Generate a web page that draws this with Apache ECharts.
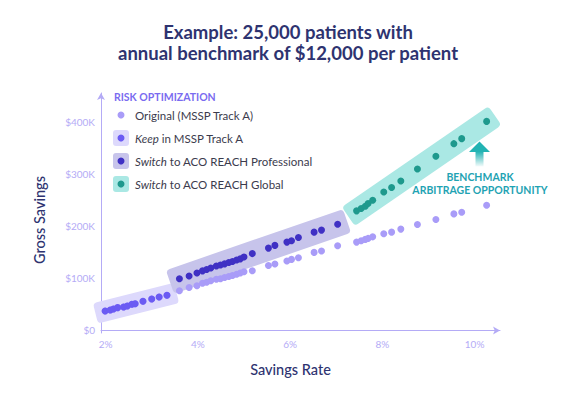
<!DOCTYPE html>
<html>
<head>
<meta charset="utf-8">
<title>Risk optimization</title>
<script src="https://cdn.jsdelivr.net/npm/echarts@6/dist/echarts.min.js"></script>
<style>
  html, body { margin: 0; padding: 0; background: #fff; }
  #chart { width: 576px; height: 400px; }
</style>
</head>
<body>
<div id="chart"></div>
<script>
// savings rate in %, gross savings in $K
var origRate = [1.99, 2.10, 2.17, 2.26, 2.39, 2.47, 2.57, 2.64, 2.81, 3.00, 3.16, 3.33,
  3.60, 3.81, 3.98, 4.10, 4.19, 4.28, 4.40, 4.49, 4.58, 4.67, 4.75, 4.84, 4.92, 5.00, 5.18,
  5.53, 5.67, 5.93, 6.03, 6.18, 6.52, 6.68, 7.03,
  7.44, 7.54, 7.63, 7.69, 7.79, 8.03, 8.20, 8.40, 8.76, 9.16, 9.55, 9.72, 10.26];
var origSavings = [37.3, 39.2, 41.1, 43.6, 44.9, 46.8, 50.1, 51.2, 55.8, 60.2, 64.1, 67.3,
  76.1, 82.2, 85.7, 90.2, 92.4, 95.2, 97.9, 99.0, 101.3, 103.3, 105.2, 107.5, 109.9, 112.4, 114.3,
  124.3, 127.2, 132.9, 136.1, 139.2, 149.5, 152.0, 162.1,
  169.2, 171.7, 174.4, 176.3, 179.3, 185.1, 188.3, 194.1, 203.1, 212.6, 223.3, 226.6, 240.0];

var keepRate = [1.99, 2.10, 2.17, 2.26, 2.39, 2.47, 2.57, 2.64, 2.81, 3.00, 3.16, 3.33];
var keepSavings = [37.3, 39.2, 41.1, 43.6, 44.9, 46.8, 50.1, 51.2, 55.8, 60.2, 64.1, 67.3];

var proRate = [3.60, 3.81, 3.98, 4.10, 4.19, 4.28, 4.40, 4.49, 4.58, 4.67, 4.75, 4.84, 4.92, 5.00, 5.18,
  5.53, 5.67, 5.93, 6.03, 6.18, 6.52, 6.68, 7.03];
var proSavings = [99.0, 104.2, 109.9, 114.1, 116.6, 119.5, 123.3, 125.2, 127.5, 130.0, 131.9, 134.8, 137.1, 140.5, 147.2,
  157.7, 162.9, 169.2, 171.7, 178.2, 188.3, 192.2, 203.6];

var globalRate = [7.44, 7.54, 7.63, 7.69, 7.79, 8.03, 8.20, 8.40, 8.76, 9.16, 9.55, 9.72, 10.26];
var globalSavings = [229.1, 233.7, 238.0, 243.2, 249.5, 265.4, 273.8, 286.4, 309.4, 333.7, 357.9, 367.5, 400.6];

var rateTicks = [2, 4, 6, 8, 10];
var savingsTicks = [0, 100, 200, 300, 400];

var legendItalic = ['', 'Keep', 'Switch', 'Switch'];
var legendRest = ['Original (MSSP Track A)', ' in MSSP Track A', ' to ACO REACH Professional', ' to ACO REACH Global'];

var NAVY = '#2e3370';
var AXIS = '#b4abf6';
var dotColors = ['#a99cf8', '#6b5bf3', '#3f30c4', '#1e998d'];
var bandColors = [null, '#ddd9fc', '#c7c4eb', '#aae8e4'];

function pairs(xs, ys) {
  return xs.map(function (x, i) { return [x, ys[i]]; });
}

// band around a group: from its first point to its last point
function bandSeries(xs, ys, fill, thick, pad) {
  var n = xs.length - 1;
  return {
    type: 'custom',
    silent: true,
    z: 1,
    data: [[xs[0], ys[0], xs[n], ys[n]]],
    renderItem: function (params, api) {
      var p1 = api.coord([api.value(0), api.value(1)]);
      var p2 = api.coord([api.value(2), api.value(3)]);
      var dx = p2[0] - p1[0], dy = p2[1] - p1[1];
      var len = Math.sqrt(dx * dx + dy * dy);
      return {
        type: 'rect',
        x: p1[0],
        y: p1[1],
        rotation: Math.atan2(-dy, dx),
        shape: { x: -pad, y: -thick / 2, width: len + pad * 2, height: thick, r: 4 },
        style: { fill: fill }
      };
    }
  };
}

function dots(name, xs, ys, color, z) {
  return {
    name: name,
    type: 'scatter',
    z: z,
    symbolSize: 7,
    itemStyle: { color: color, opacity: 1 },
    data: pairs(xs, ys)
  };
}

// legend drawn by hand: dots sit in tinted boxes
var legendEls = [{
  type: 'text', left: 114, top: 91,
  style: { text: 'RISK OPTIMIZATION', fill: '#7a6bf0', font: 'bold 10.5px Lato' }
}];
var rowY = [115, 138, 161, 184];
rowY.forEach(function (y, i) {
  if (bandColors[i]) {
    legendEls.push({
      type: 'rect', shape: { x: 113, y: y - 8, width: 16, height: 16, r: 3 },
      style: { fill: bandColors[i] }
    });
  }
  legendEls.push({
    type: 'circle', shape: { cx: 121, cy: y, r: 3.5 },
    style: { fill: dotColors[i] }
  });
  legendEls.push({
    type: 'text', x: 135, y: y,
    style: {
      text: (legendItalic[i] ? '{i|' + legendItalic[i] + '}' : '') + '{n|' + legendRest[i] + '}',
      verticalAlign: 'middle',
      rich: {
        i: { fontFamily: 'Lato', fontSize: 11.5, fontStyle: 'italic', fill: '#3b3b4d' },
        n: { fontFamily: 'Lato', fontSize: 11.5, fill: '#3b3b4d' }
      }
    }
  });
});

var chart = echarts.init(document.getElementById('chart'), null, { renderer: 'svg' });

chart.setOption({
  backgroundColor: '#fff',
  animation: false,
  title: {
    text: 'Example: 25,000 patients with\nannual benchmark of $12,000 per patient',
    left: 'center',
    top: 16,
    textStyle: { color: NAVY, fontFamily: 'Lato', fontWeight: 'bold', fontSize: 18.5, lineHeight: 21.5 }
  },
  grid: { left: 101, right: 76, top: 93, bottom: 67, outerBoundsMode: 'none' },
  xAxis: {
    type: 'value',
    min: 1.9,
    max: 10.55,
    name: 'Savings Rate',
    nameLocation: 'middle',
    nameGap: 29,
    nameTextStyle: { color: NAVY, fontFamily: 'Lato', fontSize: 14.5, fontWeight: 500, padding: [0, 20, 0, 0] },
    axisLine: { show: true, lineStyle: { color: AXIS, width: 1 }, symbol: ['none', 'arrow'], symbolSize: [6, 7] },
    axisTick: { show: false },
    splitLine: { show: false },
    axisLabel: {
      customValues: rateTicks,
      color: AXIS, fontFamily: 'Lato', fontSize: 10, margin: 6,
      formatter: function (v) { return v + '%'; }
    }
  },
  yAxis: {
    type: 'value',
    min: -5,
    max: 455,
    name: 'Gross Savings',
    nameLocation: 'middle',
    nameGap: 54,
    nameTextStyle: { color: NAVY, fontFamily: 'Lato', fontSize: 14.5, fontWeight: 500, padding: [0, 14, 0, 0] },
    axisLine: { show: true, lineStyle: { color: AXIS, width: 1 }, symbol: ['none', 'arrow'], symbolSize: [6, 7] },
    axisTick: { show: false },
    splitLine: { show: false },
    axisLabel: {
      customValues: savingsTicks,
      color: AXIS, fontFamily: 'Lato', fontSize: 10, margin: 6,
      formatter: function (v) { return v === 0 ? '$0' : '$' + v + 'K'; }
    }
  },
  series: [
    bandSeries(keepRate, keepSavings, bandColors[1], 21, 10),
    bandSeries(proRate, proSavings, bandColors[2], 25, 10),
    bandSeries(globalRate, globalSavings, bandColors[3], 23, 10),
    dots('Original (MSSP Track A)', origRate, origSavings, dotColors[0], 2),
    dots('Keep in MSSP Track A', keepRate, keepSavings, dotColors[1], 3),
    dots('Switch to ACO REACH Professional', proRate, proSavings, dotColors[2], 3),
    dots('Switch to ACO REACH Global', globalRate, globalSavings, dotColors[3], 3)
  ],
  graphic: legendEls.concat([
    {
      type: 'polygon',
      shape: { points: [[469, 152], [479.5, 141.5], [490, 152]] },
      style: { fill: '#22b3b3' }
    },
    {
      type: 'rect',
      shape: { x: 475.5, y: 151.5, width: 8, height: 15 },
      style: {
        fill: new echarts.graphic.LinearGradient(0, 0, 0, 1, [
          { offset: 0, color: '#22b3b3' },
          { offset: 1, color: 'rgba(34,179,179,0.05)' }
        ])
      }
    },
    {
      type: 'text', x: 480, y: 177,
      style: { text: 'BENCHMARK', fill: '#1fa3b3', font: 'bold 10.5px Lato', align: 'center', verticalAlign: 'middle' }
    },
    {
      type: 'text', x: 480, y: 190,
      style: { text: 'ARBITRAGE OPPORTUNITY', fill: '#1fa3b3', font: 'bold 10.5px Lato', align: 'center', verticalAlign: 'middle' }
    }
  ])
});
</script>
</body>
</html>
